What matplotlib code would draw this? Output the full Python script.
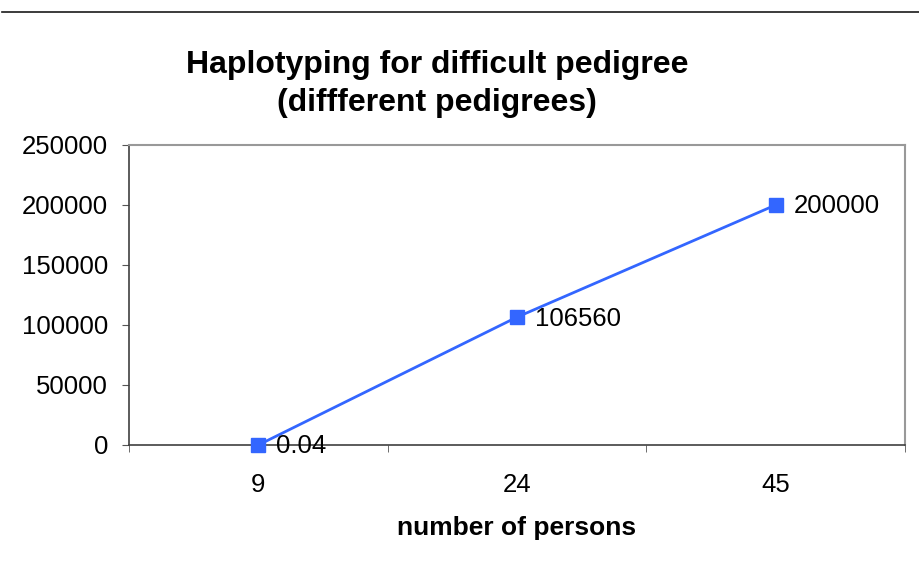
import matplotlib.pyplot as plt
import numpy as np

persons = ['9', '24', '45']
times = [0.04, 106560, 200000]
point_labels = ['0.04', '106560', '200000']

fig = plt.figure(figsize=(9.19, 5.74), dpi=100)
plt.rcParams['font.family'] = ['Liberation Sans', 'DejaVu Sans']

# rule across the top of the sheet
fig.add_artist(plt.Line2D([0.002, 1.0], [1 - 12 / 574, 1 - 12 / 574], color='#1a1a1a', lw=1.2))

ax = fig.add_axes([129 / 919, 129 / 574, 776 / 919, 300 / 574])
x = np.arange(len(persons))
ax.plot(x, times, color='#3366ff', lw=2, marker='s', ms=10, mec='#3366ff', mfc='#3366ff', clip_on=False, zorder=3)
for xi, yi, lab in zip(x, times, point_labels):
    ax.annotate(lab, (xi, yi), xytext=(13, -1), textcoords='offset points', va='center', ha='left', fontsize=18.5)

ax.set_xlim(-0.5, 2.5)
ax.set_ylim(0, 250000)
ax.set_yticks(np.arange(0, 250001, 50000))
ax.set_xticks(x)
ax.set_xticklabels(persons)
ax.set_xticks([-0.5, 0.5, 1.5, 2.5], minor=True)
ax.tick_params(axis='x', which='major', length=0, pad=20, labelsize=18.5)
ax.tick_params(axis='x', which='minor', length=5, direction='out', color='#555555')
ax.tick_params(axis='y', length=5, direction='out', labelsize=18.5, color='#555555', pad=10)

for s in ['left', 'bottom']:
    ax.spines[s].set_color('#404040')
    ax.spines[s].set_linewidth(1.2)
for s in ['top', 'right']:
    ax.spines[s].set_color('#999999')
    ax.spines[s].set_linewidth(1.5)

ax.set_xlabel('number of persons', fontsize=19, fontweight='bold', labelpad=14)
fig.text(437 / 919, 1 - 84 / 574, 'Haplotyping for difficult pedigree\n(diffferent pedigrees)',
         ha='center', va='center', fontsize=23, fontweight='bold', linespacing=1.33)

plt.savefig('out.png', dpi=100)
